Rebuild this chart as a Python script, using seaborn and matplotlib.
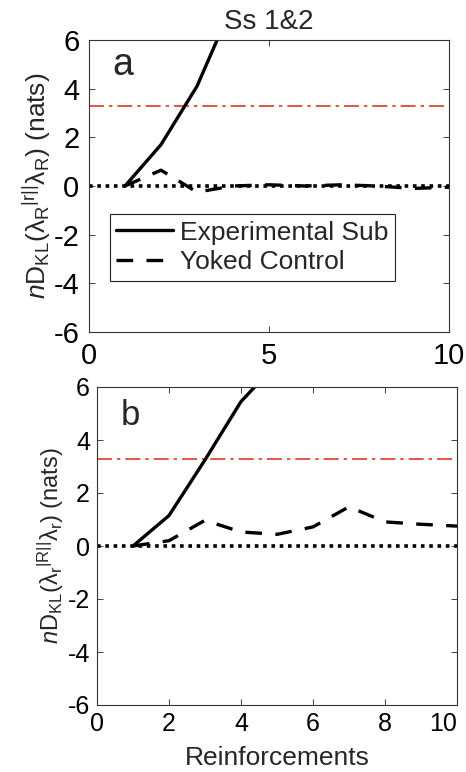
import numpy as np
import pandas as pd
import matplotlib
matplotlib.use("Agg")
import matplotlib.pyplot as plt
import seaborn as sns

# ---- data ----
reinforcements = [1, 2, 3, 4, 5, 6, 7, 8, 9, 10]
exp_a = [0.0, 1.7, 4.1, 7.5, 10.5, 13.0, 15.5, 18.0, 20.5, 23.0]
yoked_a = [0.0, 0.65, -0.25, 0.0, 0.05, 0.0, 0.05, 0.0, -0.1, -0.05]
exp_b = [0.0, 1.15, 3.25, 5.45, 6.9, 8.5, 10.0, 11.5, 13.0, 14.5]
yoked_b = [0.0, 0.2, 0.97, 0.53, 0.44, 0.72, 1.48, 0.91, 0.82, 0.75]
threshold = 3.3
title = "Ss 1&2"
legend_labels = ["Experimental Sub", "Yoked Control"]
xticks_a = [0, 5, 10]
xticks_b = [0, 2, 4, 6, 8, 10]
yticks = [-6, -4, -2, 0, 2, 4, 6]

sns.set_style("ticks")
plt.rcParams['font.family'] = ['Liberation Sans', 'DejaVu Sans']
plt.rcParams['mathtext.fontset'] = 'custom'
plt.rcParams['mathtext.rm'] = 'Liberation Sans'
plt.rcParams['mathtext.it'] = 'Liberation Sans:italic'
plt.rcParams['mathtext.bf'] = 'Liberation Sans:bold'
plt.rcParams['axes.unicode_minus'] = False

fig = plt.figure(figsize=(4.66, 7.72), dpi=100)
ax1 = fig.add_axes([89/466, (772-332)/772, 360/466, 292/772])
ax2 = fig.add_axes([97/466, (772-705)/772, 360/466, 318/772])

red = (0.86, 0.22, 0.15)

def draw(ax, exp, yok, xticks, tick_fs, pad):
    df = pd.DataFrame({"x": reinforcements * 2,
                       "y": list(exp) + list(yok),
                       "group": [legend_labels[0]] * len(exp) + [legend_labels[1]] * len(yok)})
    sns.lineplot(data=df[df.group == legend_labels[0]], x="x", y="y", ax=ax,
                 color="black", linewidth=2.4, label=legend_labels[0])
    sns.lineplot(data=df[df.group == legend_labels[1]], x="x", y="y", ax=ax,
                 color="black", linewidth=2.4, linestyle=(0, (5, 4)), label=legend_labels[1])
    ax.axhline(threshold, color=red, linewidth=1.2, linestyle=(0, (9, 3, 2, 3)), zorder=1)
    ax.plot([0, 10], [0, 0], color="black", linewidth=2.6, linestyle=(0, (1, 1.3)), zorder=1)
    ax.set_xlim(0, 10)
    ax.set_ylim(-6, 6)
    ax.set_xticks(xticks)
    ax.set_yticks(yticks)
    ax.tick_params(direction="in", top=True, right=True, length=4, width=0.6,
                   labelsize=tick_fs, colors="#222222", labelcolor="black", pad=pad)
    for s in ax.spines.values():
        s.set_visible(True)
        s.set_color("#333333")
        s.set_linewidth(0.8)

draw(ax1, exp_a, yoked_a, xticks_a, 21, 7)
draw(ax2, exp_b, yoked_b, xticks_b, 18, 5)

# keep the last x tick label inside the figure
ax2.get_xticklabels()[-1].set_horizontalalignment("right")
ax2.get_xticklabels()[-1].set_x(10.05)

ax1.set_xlabel("")
ax1.set_ylabel(r"$n\mathrm{D}_{\mathrm{KL}}(\mathrm{\lambda}_{\mathrm{R}}{}^{|\mathrm{r}||}\mathrm{\lambda}_{\mathrm{R}})$ (nats)",
               fontsize=19, labelpad=0)
ax2.set_xlabel("Reinforcements", fontsize=19, labelpad=7)
ax2.set_ylabel(r"$n\mathrm{D}_{\mathrm{KL}}(\mathrm{\lambda}_{\mathrm{r}}{}^{|\mathrm{R}||}\mathrm{\lambda}_{\mathrm{r}})$ (nats)",
               fontsize=17, labelpad=1)
ax1.set_title(title, fontsize=20, pad=8)

ax1.text(0.065, 0.915, "a", transform=ax1.transAxes, fontsize=27, va="center", ha="left")
ax2.text(0.065, 0.909, "b", transform=ax2.transAxes, fontsize=25, va="center", ha="left")

leg = ax1.legend(loc="upper left", bbox_to_anchor=(0.058, 0.404), fontsize=19,
                 handlelength=2.15, handletextpad=0.27, borderpad=0.25, labelspacing=0.2,
                 frameon=True, fancybox=False, borderaxespad=0)
leg.get_frame().set_edgecolor("#222222")
leg.get_frame().set_linewidth(0.8)
leg.get_frame().set_alpha(1)
ax2.get_legend().remove()

fig.savefig("out.png", dpi=100)
